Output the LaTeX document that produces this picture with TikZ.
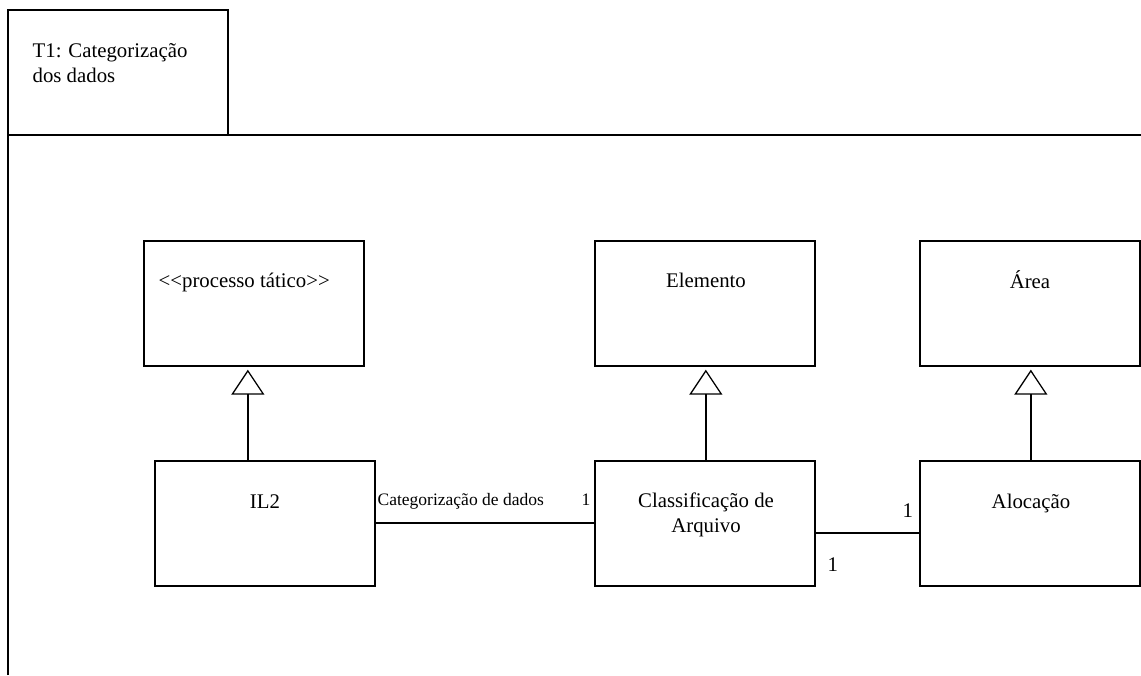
\documentclass[tikz,border=0pt]{standalone}
\usepackage{fontspec}
\setmainfont{Liberation Serif}
\usetikzlibrary{arrows.meta,calc}

\tikzset{
  umlbox/.style={draw, rectangle, minimum width=220pt, minimum height=125pt, inner sep=0pt},
  lbl/.style={font=\fontsize{20.8}{24.5}\selectfont, inner sep=0pt},
  small/.style={font=\fontsize{17.5}{21}\selectfont, inner sep=0pt},
  inherit/.style={-{Triangle[open, length=25pt, width=33pt, line width=1.3pt]}, shorten >=3pt},
}

\begin{document}
\begin{tikzpicture}[x=1pt, y=-1pt, line width=1.3pt, line join=miter]
\useasboundingbox (0,0) rectangle (1141,675);

% diagram frame with its name tab
\coordinate (frameTL) at (8,10);
\coordinate (tabR) at (228,10);
\coordinate (tabB) at (228,135);
\coordinate (frameBL) at (8,675);
\coordinate (sepL) at (8,135);
\coordinate (sepR) at (1141,135);
\draw (frameBL) -- (frameTL) -- (tabR) -- (tabB);
\draw (sepL) -- (sepR);
% multi-line nodes sit on the baseline of their last line
\node[lbl, anchor=base west, align=left] (title) at (32,82) {T1: Categorização\\dos dados};

% classes
\node[umlbox] (proc) at (254,303.5) {};
\node[umlbox] (elem) at (705,303.5) {};
\node[umlbox] (area) at (1030,303.5) {};
\node[umlbox] (il2)  at (265,523.5) {};
\node[umlbox] (cls)  at (705,523.5) {};
\node[umlbox] (aloc) at (1030,523.5) {};

% class names
\node[lbl, anchor=base west] (procT) at (158,287) {{<}{<}processo tático{>}{>}};
\node[lbl, anchor=base] (elemT) at (706,287) {Elemento};
\node[lbl, anchor=base] (areaT) at (1030,288) {Área};
\node[lbl, anchor=base] (il2T) at (265,508) {IL2};
\node[lbl, anchor=base, align=center] (clsT) at (706,532) {Classificação de\\Arquivo};
\node[lbl, anchor=base] (alocT) at (1031,508) {Alocação};

% generalizations
\coordinate (g1) at ($(il2.north west)+(93.5,0)$);
\coordinate (g2) at ($(cls.north west)+(111.5,0)$);
\coordinate (g3) at ($(aloc.north west)+(111.5,0)$);
\draw[inherit] (g1) -- (g1 |- proc.south);
\draw[inherit] (g2) -- (g2 |- elem.south);
\draw[inherit] (g3) -- (g3 |- area.south);

% associations
\draw ($(il2.east)+(0,-0.5)$) -- ($(cls.west)+(0,-0.5)$);
\draw ($(cls.east)+(0,9.5)$) -- ($(aloc.west)+(0,9.5)$);

% association labels
\node[small, anchor=base west] (assocName) at (377,505) {Categorização de dados};
\node[small, anchor=base east] (mult1) at (591,505) {1};
\node[lbl, anchor=base west] (mult2) at (902,517) {1};
\node[lbl, anchor=base west] (mult3) at (827,571) {1};
\end{tikzpicture}
\end{document}
